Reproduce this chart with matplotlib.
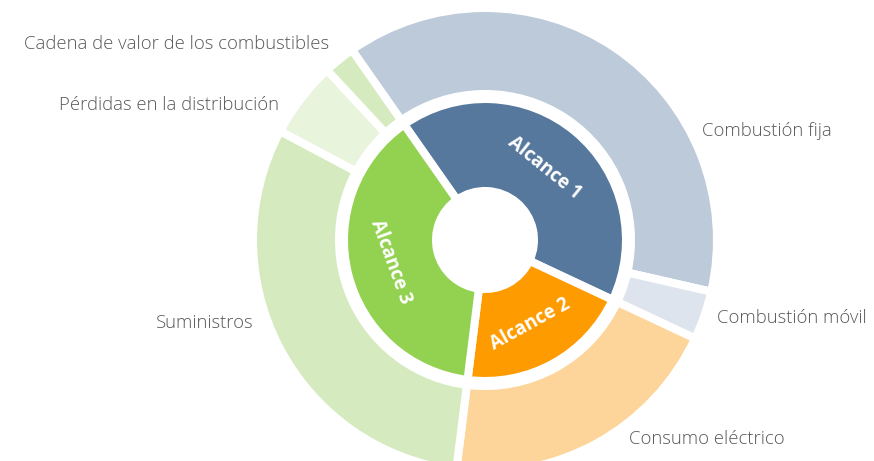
import matplotlib.pyplot as plt

# inner ring (scopes), shares in %
scopes = ["Alcance 1", "Alcance 2", "Alcance 3"]
scope_vals = [41.7, 20.0, 38.3]
scope_colors = ["#56789d", "#fd9b00", "#93d150"]

# outer ring (sources), shares in %
sources = ["Combustión fija", "Combustión móvil", "Consumo eléctrico",
           "Suministros", "Pérdidas en la distribución",
           "Cadena de valor de los combustibles"]
source_vals = [38.3, 3.4, 20.0, 30.8, 5.3, 2.2]
source_colors = ["#bccad9", "#dde4ed", "#fdd59b", "#d5ebbf", "#e8f4dc", "#d5ebbf"]

W, H = 874, 461
cx, cy = 485, H - 240

fig = plt.figure(figsize=(W / 100, H / 100), dpi=100)
ax = fig.add_axes([0, 0, 1, 1])

edge = dict(edgecolor="white", linewidth=5.8)
ax.pie(source_vals, radius=232, center=(cx, cy), startangle=125, counterclock=False,
       colors=source_colors, wedgeprops=dict(width=86, **edge), frame=True)
ax.pie(scope_vals, radius=141, center=(cx, cy), startangle=125, counterclock=False,
       colors=scope_colors, wedgeprops=dict(width=92, **edge), frame=True)

ax.set_xlim(0, W)
ax.set_ylim(0, H)
ax.set_aspect("equal")
ax.axis("off")

lab = dict(fontsize=13.3, color="#585858", family="Open Sans", fontweight="light", va="center")
# (x, y from top, alignment)
label_pos = {
    "Combustión fija": (702, 131, "left"),
    "Combustión móvil": (717, 318, "left"),
    "Consumo eléctrico": (629, 439, "left"),
    "Suministros": (254, 323, "right"),
    "Pérdidas en la distribución": (279, 105, "right"),
    "Cadena de valor de los combustibles": (329, 44, "right"),
}
for name in sources:
    x, y, ha = label_pos[name]
    ax.text(x, H - y, name, ha=ha, **lab)

# scope labels, rotated along the ring
scope_pos = [(544, 168, -39), (530, 324, 29), (391, 262, -70)]
for name, (x, y, rot) in zip(scopes, scope_pos):
    ax.text(x, H - y, name, rotation=rot, rotation_mode="anchor", ha="center", va="center",
            fontsize=13.5, color="white", fontweight="bold", family="Open Sans")

fig.savefig("out.png", dpi=100)
